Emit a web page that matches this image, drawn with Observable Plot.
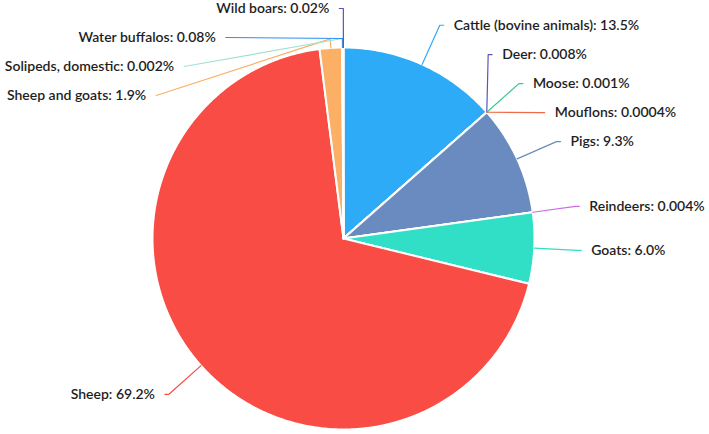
<!DOCTYPE html>
<html>
<head>
<meta charset="utf-8">
<script src="https://cdn.jsdelivr.net/npm/d3@7"></script>
<script src="https://cdn.jsdelivr.net/npm/@observablehq/plot@0.6"></script>
<style>
  html, body { margin: 0; padding: 0; background: #fff; }
  #chart svg { display: block; overflow: visible; }
</style>
</head>
<body>
<div id="chart"></div>
<script>
// ---- data ----
const categories = [
  "Cattle (bovine animals)", "Deer", "Moose", "Mouflons", "Pigs", "Reindeers",
  "Goats", "Sheep", "Sheep and goats", "Solipeds, domestic", "Water buffalos", "Wild boars"
];
const shares = [13.5, 0.008, 0.001, 0.0004, 9.3, 0.004, 6.0, 69.2, 1.9, 0.002, 0.08, 0.02];
const shareLabels = ["13.5%", "0.008%", "0.001%", "0.0004%", "9.3%", "0.004%", "6.0%", "69.2%", "1.9%", "0.002%", "0.08%", "0.02%"];
const palette = ["#2eabf7", "#5a55c4", "#33cc88", "#f26a45", "#6a8bbf", "#c76ee0",
                 "#30dfc6", "#f94c45", "#fbb065", "#9fe2d3", "#2f90ee", "#5b51bb"];

// ---- layout constants ----
const W = 709, H = 434;
const CX = 343, CY = 238;      // pie centre (pixels)
const R = 191;                 // pie radius
const R2 = 234;                // elbow radius of leader lines
const GAP = 29;                // min vertical spacing of labels
const LEN2 = 4, PAD = 10;
const TOP = CY - 8, BOTTOM = -(H - CY) + 8;

const total = d3.sum(shares);
let acc = 0;
const slices = categories.map((name, i) => {
  const a0 = acc / total * 2 * Math.PI;
  acc += shares[i];
  const a1 = acc / total * 2 * Math.PI;
  return {name, i, a0, a1, mid: (a0 + a1) / 2};
});

// wedge polygons in pie coordinates (y up)
const wedgePts = slices.flatMap(s => {
  const n = Math.max(2, Math.ceil((s.a1 - s.a0) / (Math.PI / 360)));
  const pts = [{name: s.name, x: 0, y: 0}];
  for (let k = 0; k <= n; k++) {
    const a = s.a0 + (s.a1 - s.a0) * k / n;
    pts.push({name: s.name, x: R * Math.sin(a), y: R * Math.cos(a)});
  }
  pts.push({name: s.name, x: 0, y: 0});
  return pts;
});

// ---- label placement ----
const items = slices.map(s => ({
  ...s,
  dir: s.mid < Math.PI ? 1 : -1,
  nx: R2 * Math.sin(s.mid),
  ny: R2 * Math.cos(s.mid)
}));

function spread(list) {
  list.sort((a, b) => b.ny - a.ny);
  let clusters = list.map(it => ({items: [it]}));
  const place = c => {
    const n = c.items.length;
    let center = d3.mean(c.items, d => d.ny);
    let top = center + (n - 1) * GAP / 2;
    if (top > TOP) top = TOP;
    let bot = top - (n - 1) * GAP;
    if (bot < BOTTOM) { bot = BOTTOM; top = bot + (n - 1) * GAP; }
    c.top = top; c.bot = bot;
  };
  clusters.forEach(place);
  let merged = true;
  while (merged) {
    merged = false;
    for (let k = 0; k < clusters.length - 1; k++) {
      if (clusters[k].bot - clusters[k + 1].top < GAP) {
        clusters[k].items = clusters[k].items.concat(clusters[k + 1].items);
        clusters.splice(k + 1, 1);
        place(clusters[k]);
        merged = true;
        break;
      }
    }
  }
  clusters.forEach(c => c.items.forEach((it, j) => { it.y = c.top - j * GAP; }));
  const shifted = list.some(it => Math.abs(it.y - it.ny) > 0.5);
  for (const semi of [list.filter(d => d.y >= 0), list.filter(d => d.y < 0)]) {
    if (!semi.length) continue;
    const ext = d3.greatest(semi, d => Math.abs(d.y));
    const rB = Math.abs(ext.nx) < R2 ? Math.abs(ext.y) / Math.sqrt(1 - ext.nx * ext.nx / (R2 * R2)) : R2;
    for (const it of semi) {
      it.x = shifted ? it.dir * Math.sqrt(Math.max(0, 1 - it.y * it.y / (rB * rB))) * R2 : it.nx;
    }
  }
}
spread(items.filter(d => d.dir > 0));
spread(items.filter(d => d.dir < 0));

const leaderPts = [];
const labelRows = [];
for (const it of items) {
  const nxu = Math.sin(it.mid), nyu = Math.cos(it.mid);
  const p0 = [R * nxu, R * nyu];
  let p1 = [it.x, it.y];
  const p2 = [it.x + it.dir * LEN2, it.y];
  const vx = p1[0] - p0[0], vy = p1[1] - p0[1];
  const len = Math.hypot(vx, vy);
  if ((vx * nxu + vy * nyu) / len < Math.cos(75 * Math.PI / 180)) {
    p1 = [p0[0] + nxu * 9, p0[1] + nyu * 9];
  }
  [p0, p1, p2].forEach((p, k) => leaderPts.push({name: it.name, k, x: p[0], y: p[1]}));
  labelRows.push({name: it.name, dir: it.dir, x: p2[0] + it.dir * PAD, y: it.y,
                  text: `${it.name}: ${shareLabels[it.i]}`});
}

const textStyle = {fill: "#1e1e1e", fontSize: 14, fontFamily: "Lato", fontWeight: 600};

const chart = Plot.plot({
  width: W,
  height: H,
  margin: 0,
  style: {background: "#fff", fontFamily: "Lato"},
  x: {domain: [-CX, W - CX], axis: null},
  y: {domain: [-(H - CY), CY], axis: null},
  color: {domain: categories, range: palette},
  marks: [
    Plot.line(wedgePts, {x: "x", y: "y", z: "name", fill: "name", stroke: "#fff",
                         strokeWidth: 2, strokeLinejoin: "round", curve: "linear"}),
    Plot.line(leaderPts, {x: "x", y: "y", z: "name", stroke: "name", strokeWidth: 1.2, curve: "linear"}),
    Plot.text(labelRows.filter(d => d.dir > 0), {x: "x", y: "y", text: "text", textAnchor: "start", ...textStyle}),
    Plot.text(labelRows.filter(d => d.dir < 0), {x: "x", y: "y", text: "text", textAnchor: "end", ...textStyle})
  ]
});
document.getElementById("chart").append(chart);
</script>
</body>
</html>
